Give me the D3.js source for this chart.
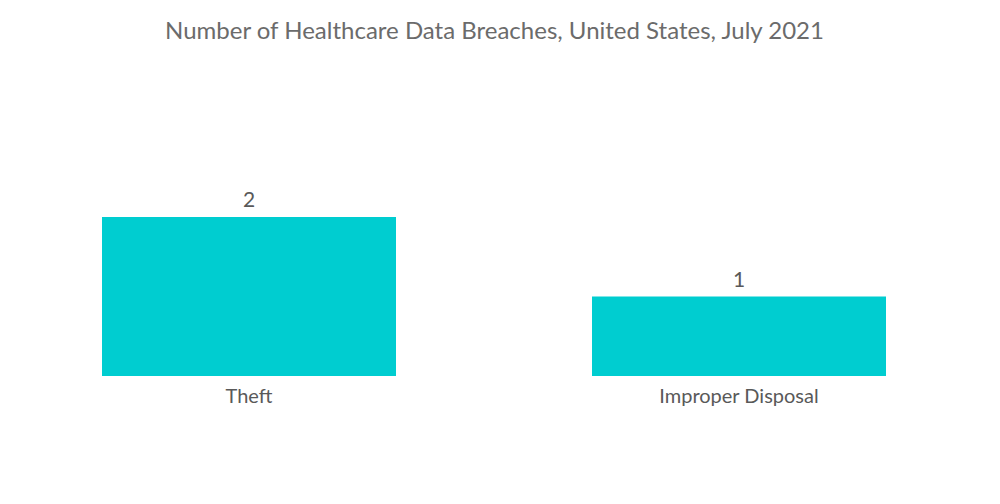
<!DOCTYPE html>
<html>
<head>
<meta charset="utf-8">
<script src="https://cdn.jsdelivr.net/npm/d3@7"></script>
<style>
  body { margin: 0; background: #fff; }
  text { font-family: Lato, "Open Sans", sans-serif; }
</style>
</head>
<body>
<svg id="chart" width="1000" height="504"></svg>
<script>
var categories = ["Theft", "Improper Disposal"]
var values = [2, 1]
var title = "Number of Healthcare Data Breaches, United States, July 2021"

var svg = d3.select("#chart")
var barColor = "#00cdd0"
var textColor = "#595959"

var x = d3.scaleBand()
  .domain(categories)
  .range([4, 984])
  .paddingInner(0.4)
  .paddingOuter(0.2)

var y = d3.scaleLinear()
  .domain([0, 2])
  .range([376, 217])

svg.append("text")
  .attr("x", 494.5)
  .attr("y", 39)
  .attr("text-anchor", "middle")
  .attr("font-size", 24)
  .attr("fill", "#6b6b6b")
  .text(title)

var bars = svg.append("g").selectAll("g")
  .data(categories)
  .join("g")

bars.append("rect")
  .attr("x", d => x(d))
  .attr("y", (d, i) => y(values[i]))
  .attr("width", x.bandwidth())
  .attr("height", (d, i) => y(0) - y(values[i]))
  .attr("fill", barColor)

bars.append("text")
  .attr("x", d => x(d) + x.bandwidth() / 2)
  .attr("y", (d, i) => y(values[i]) - 10)
  .attr("text-anchor", "middle")
  .attr("font-size", 21)
  .attr("fill", textColor)
  .text((d, i) => values[i])

// category labels under the bars
bars.append("text")
  .attr("x", d => x(d) + x.bandwidth() / 2)
  .attr("y", y(0) + 27)
  .attr("text-anchor", "middle")
  .attr("font-size", 20)
  .attr("fill", textColor)
  .text(d => d)
</script>
</body>
</html>
